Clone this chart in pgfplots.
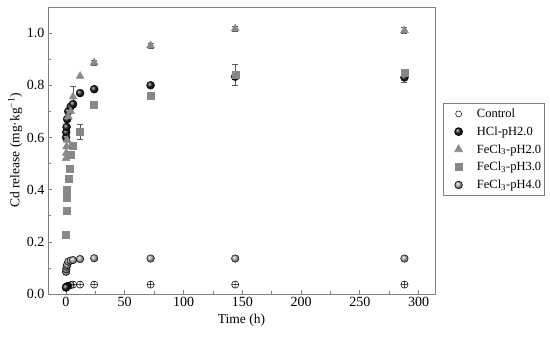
\documentclass[border=0pt]{standalone}
\usepackage{fontspec}
\setmainfont{Liberation Serif}
\usepackage{pgfplots}
\pgfplotsset{compat=1.18}
\usepackage{pgfplotstable}

\definecolor{axgray}{RGB}{128,128,128}
\definecolor{trigray}{RGB}{138,138,138}
\definecolor{sqgray}{RGB}{135,135,135}
\definecolor{cigray}{RGB}{175,175,175}

\pgfplotstableread{
t y e
0 0.025 0
0.083 0.027 0
0.25 0.028 0
0.5 0.029 0
1 0.030 0
2 0.032 0
4 0.034 0
6 0.036 0
12 0.036 0
24 0.036 0
72 0.036 0
144 0.036 0
288 0.036 0
}\control

\pgfplotstableread{
t y e
0 0.025 0
0.083 0.60 0
0.25 0.62 0
0.5 0.64 0
1 0.67 0
2 0.70 0
4 0.718 0
6 0.728 0
12 0.770 0
24 0.785 0
72 0.800 0
144 0.833 0.01
288 0.830 0.02
}\hcl

\pgfplotstableread{
t y e
0.083 0.52 0
0.25 0.54 0
0.5 0.565 0
1 0.59 0
2 0.68 0
4 0.70 0
6 0.756 0.04
12 0.835 0
24 0.887 0.01
72 0.952 0.01
144 1.017 0.01
288 1.010 0.012
}\fetwo

\pgfplotstableread{
t y e
0.083 0.226 0.012
0.25 0.318 0
0.5 0.369 0
1 0.401 0
2 0.440 0
3 0.479 0
4 0.533 0
6 0.570 0
12 0.622 0.03
24 0.725 0
72 0.760 0
144 0.840 0.04
288 0.848 0.012
}\fethree

\pgfplotstableread{
t y e
0.083 0.085 0
0.25 0.095 0
0.5 0.105 0
1 0.112 0
2 0.124 0
4 0.128 0
6 0.130 0
12 0.134 0
24 0.137 0
72 0.136 0
144 0.136 0
288 0.136 0
}\fefour

\begin{document}
\begin{tikzpicture}
\begin{axis}[
  name=ax,
  scale only axis,
  width=387pt, height=287pt,
  xmin=-15.3, xmax=314, ymin=0, ymax=1.1,
  xtick={0,50,...,300},
  ytick={0,0.2,0.4,0.6,0.8,1.0},
  minor x tick num=1, minor y tick num=1,
  xtick pos=bottom, ytick pos=left,
  tick align=inside,
  axis line style={axgray, line width=0.9pt},
  tick style={axgray, line width=0.6pt},
  major tick length=4pt, minor tick length=2.5pt,
  /pgf/number format/assume math mode=true,
  yticklabel={\pgfmathprintnumber[fixed,fixed zerofill,precision=1]{\tick}},
  tick label style={font=\fontsize{14}{16}\selectfont},
  label style={font=\fontsize{13.5}{16}\selectfont},
  xlabel={Time (h)},
  ylabel={Cd release (mg·kg\textsuperscript{−1})},
  ylabel style={at={(axis description cs:-0.057,0.5)}, anchor=south, rotate=0},
  legend style={
    at={(rel axis cs:1.0207,0.6655)}, anchor=north west,
    draw=axgray, line width=0.6pt,
    font=\fontsize{12.5}{14}\selectfont,
    row sep=3.6pt, inner xsep=1pt, inner ysep=3.5pt,
    /tikz/every odd column/.append style={column sep=6pt},
  },
  legend image code/.code={%
    \path (0pt,0pt) (24pt,0pt);
    \draw[#1, only marks] plot coordinates {(14pt,0pt)};},
  legend cell align=left,
  error bars/error bar style={black!65, line width=0.6pt},
  error bars/error mark options={rotate=90, mark size=3pt, black!65, line width=0.6pt},
]
\addplot[only marks, mark=oplus, mark size=3.6pt, mark options={draw=black, fill=white, line width=0.5pt}, forget plot]
  table[x=t, y=y] {\control};
\addlegendimage{only marks, mark=o, mark size=3pt, mark options={draw=black, line width=0.5pt}}
\addlegendentry{Control}

\addplot[only marks, mark=ball, mark size=4pt, mark options={ball color=black!90},
  error bars/.cd, y dir=both, y explicit]
  table[x=t, y=y, y error=e] {\hcl};
\addlegendentry{HCl-pH2.0}

\addplot[only marks, mark=triangle*, mark size=4.6pt, mark options={draw=trigray, fill=trigray},
  error bars/.cd, y dir=both, y explicit]
  table[x=t, y=y, y error=e] {\fetwo};
\addlegendentry{FeCl\textsubscript{3}-pH2.0}

\addplot[only marks, mark=square*, mark size=3.5pt, mark options={draw=sqgray, fill=sqgray},
  error bars/.cd, y dir=both, y explicit]
  table[x=t, y=y, y error=e] {\fethree};
\addlegendentry{FeCl\textsubscript{3}-pH3.0}

\addplot[only marks, mark=ball, mark size=3.8pt, mark options={ball color=cigray}]
  table[x=t, y=y] {\fefour};
\addlegendentry{FeCl\textsubscript{3}-pH4.0}
\end{axis}
\path ([xshift=-48pt,yshift=-45pt]ax.south west) rectangle ([xshift=115pt,yshift=7pt]ax.north east);
\end{tikzpicture}
\end{document}
